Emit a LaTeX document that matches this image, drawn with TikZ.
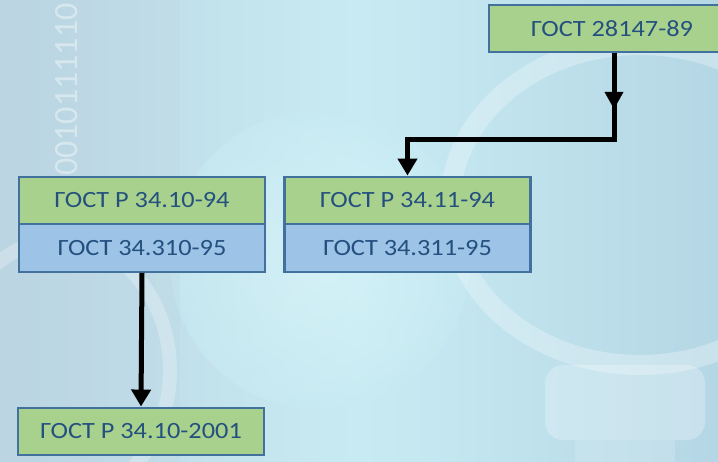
\documentclass[tikz,border=0pt]{standalone}
\usepackage{fontspec}
\setmainfont{Carlito}
\usetikzlibrary{arrows.meta,decorations.markings,positioning}

\definecolor{boxgreen}{HTML}{A9D18E}
\definecolor{boxblue}{HTML}{9DC3E6}
\definecolor{boxedge}{HTML}{41719C}
\definecolor{boxtext}{HTML}{24507F}
\definecolor{bgleft}{HTML}{BBD5E2}
\definecolor{bgmid}{HTML}{C8EBF3}
\definecolor{bgright}{HTML}{B5D7E5}
\definecolor{glow}{HTML}{DDF7FA}

\newcommand{\wide}[1]{\scalebox{1.13}[1]{#1}}

\tikzset{
  stdbox/.style={draw=boxedge, line width=2.4pt, minimum width=246pt,
    minimum height=47.5pt, inner sep=0pt, text=boxtext,
    font=\fontsize{23.3}{26}\selectfont},
  greenbox/.style={stdbox, fill=boxgreen},
  bluebox/.style={stdbox, fill=boxblue},
  link/.style={line width=5pt, black, line join=miter},
  tip/.style={-{Triangle[length=17pt,width=19pt]}},
}

\begin{document}
\begin{tikzpicture}[x=1pt,y=-1pt]
  % backdrop
  \useasboundingbox (0,0) rectangle (718,462);
  \begin{scope}
    \clip (0,0) rectangle (718,462);
    \shade[left color=bgleft, right color=bgright, middle color=bgmid]
      (0,0) rectangle (718,462);
    \shade[inner color=glow, outer color=bgmid, opacity=0.6] (320,260) circle (150);
    \fill[bgleft, opacity=0.25] (0,0) rectangle (180,462);
    % magnifier ring and handle
    \draw[white, opacity=0.28, line width=20pt] (640,205) ellipse (190 and 160);
    \fill[white, opacity=0.25, rounded corners=18pt] (545,365) rectangle (705,440);
    \fill[white, opacity=0.15] (575,440) rectangle (675,462);
    % second ring on the left
    \draw[white, opacity=0.25, line width=14pt] (60,370) ellipse (110 and 130);
  \end{scope}
  % binary digits
  \node[white, opacity=0.4, rotate=90, anchor=west, inner sep=0pt,
        font=\fontsize{34}{34}\selectfont] (digits) at (67,176) {0010111110};

  % standards
  \node[greenbox, minimum width=250pt] (g28147) at (614,28.5) {\hspace*{-4pt}\wide{ГОСТ 28147-89}};
  \node[greenbox] (g3410)  at (142,200.5) {\wide{ГОСТ Р 34.10-94}};
  \node[bluebox]  (g34310) at (142,248)   {\wide{ГОСТ 34.310-95}};
  \node[greenbox] (g3411)  at (407.5,200.5) {\wide{ГОСТ Р 34.11-94}};
  \node[bluebox]  (g34311) at (407.5,248)   {\wide{ГОСТ 34.311-95}};
  \node[greenbox] (g2001)  at (141,431.5) {\wide{ГОСТ Р 34.10-2001}};

  % connectors
  \coordinate (bendA) at (g28147.south |- 0,140);
  \coordinate (bendB) at (g3411.north |- 0,140);
  \draw[link, tip] (g28147.south) -- (bendA) -- (bendB) -- (g3411.north);
  \path[postaction={decorate}, decoration={markings,
      mark=at position 0.64 with {\arrow[black]{Triangle[length=17pt,width=19pt]}}}]
      (g28147.south) -- (bendA);
  \draw[link, tip] (g34310.south) -- (g2001.north);
\end{tikzpicture}
\end{document}
